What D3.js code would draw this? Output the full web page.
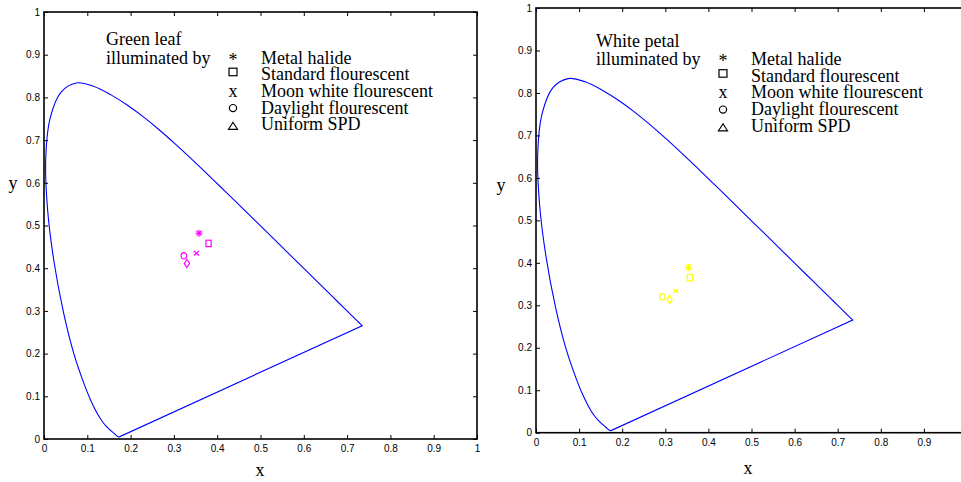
<!DOCTYPE html>
<html>
<head>
<meta charset="utf-8">
<script src="https://cdn.jsdelivr.net/npm/d3@7"></script>
<style>
  body { margin: 0; background: #fff; }
  svg { display: block; }
  .tick text { font-family: "Liberation Sans", Arial, sans-serif; font-size: 10px; fill: #000; }
  .lgd { font-family: "Liberation Serif", "Times New Roman", serif; font-size: 18px; fill: #000; }
</style>
</head>
<body>
<svg id="chart" width="961" height="482"></svg>
<script>
// CIE 1931 spectral locus, 380-700 nm step 5 nm
const locusX = [0.1741, 0.1740, 0.1738, 0.1736, 0.1733, 0.1730, 0.1726, 0.1721, 0.1714, 0.1703,
  0.1689, 0.1669, 0.1644, 0.1611, 0.1566, 0.1510, 0.1440, 0.1355, 0.1241, 0.1096,
  0.0913, 0.0687, 0.0454, 0.0235, 0.0082, 0.0039, 0.0139, 0.0389, 0.0743, 0.1142,
  0.1547, 0.1929, 0.2296, 0.2658, 0.3016, 0.3373, 0.3731, 0.4087, 0.4441, 0.4788,
  0.5125, 0.5448, 0.5752, 0.6029, 0.6270, 0.6482, 0.6658, 0.6801, 0.6915, 0.7006,
  0.7079, 0.7140, 0.7190, 0.7230, 0.7260, 0.7283, 0.7300, 0.7311, 0.7320, 0.7327,
  0.7334, 0.7340, 0.7344, 0.7346, 0.7347];
const locusY = [0.0050, 0.0050, 0.0049, 0.0049, 0.0048, 0.0048, 0.0048, 0.0048, 0.0051, 0.0058,
  0.0069, 0.0086, 0.0109, 0.0138, 0.0177, 0.0227, 0.0297, 0.0399, 0.0578, 0.0868,
  0.1327, 0.2007, 0.2950, 0.4127, 0.5384, 0.6548, 0.7502, 0.8120, 0.8338, 0.8262,
  0.8059, 0.7816, 0.7543, 0.7243, 0.6923, 0.6589, 0.6245, 0.5896, 0.5547, 0.5202,
  0.4866, 0.4544, 0.4242, 0.3965, 0.3725, 0.3514, 0.3340, 0.3197, 0.3083, 0.2993,
  0.2920, 0.2859, 0.2809, 0.2770, 0.2740, 0.2717, 0.2700, 0.2689, 0.2680, 0.2673,
  0.2666, 0.2660, 0.2656, 0.2654, 0.2653];

const illuminants = ['Metal halide', 'Standard flourescent', 'Moon white flourescent',
  'Daylight flourescent', 'Uniform SPD'];
const markers = ['star', 'square', 'x', 'circle', 'diamond'];

// chromaticity of the samples, one per illuminant
const leafX = [0.358, 0.380, 0.352, 0.323, 0.330];
const leafY = [0.482, 0.458, 0.435, 0.429, 0.411];
const petalX = [0.354, 0.357, 0.324, 0.293, 0.310];
const petalY = [0.389, 0.365, 0.334, 0.320, 0.314];

const tickVals = [0, 0.1, 0.2, 0.3, 0.4, 0.5, 0.6, 0.7, 0.8, 0.9, 1];

const W = 961;
const svg = d3.select('#chart');
svg.append('rect').attr('width', W).attr('height', 482).attr('fill', '#fff');

const fmt = d => String(+d.toFixed(1));

function marker(g, type, cx, cy, color) {
  const m = g.append('g').attr('transform', `translate(${cx},${cy})`)
    .attr('fill', 'none').attr('stroke', color).attr('stroke-width', 1.2);
  if (type === 'star') {
    const r = 3.5;
    [0, 45, 90, 135].forEach(a => {
      const dx = r * Math.cos(a * Math.PI / 180);
      const dy = r * Math.sin(a * Math.PI / 180);
      m.append('line').attr('x1', -dx).attr('y1', -dy).attr('x2', dx).attr('y2', dy);
    });
  } else if (type === 'square') {
    m.append('rect').attr('x', -2.6).attr('y', -3.2).attr('width', 5.2).attr('height', 6.4);
  } else if (type === 'x') {
    m.append('path').attr('d', 'M-2.5,-2.2L2.5,2.2M-2.5,2.2L2.5,-2.2');
  } else if (type === 'circle') {
    m.append('ellipse').attr('rx', 2.8).attr('ry', 3.2);
  } else if (type === 'diamond') {
    m.append('path').attr('d', 'M0,-4.2L2.6,0L0,4.2L-2.6,0Z');
  }
}

function drawPanel(p) {
  const x = d3.scaleLinear().domain([0, 1]).range([p.left, p.right]);
  const y = d3.scaleLinear().domain([0, 1]).range([p.bottom, p.top]);
  const g = svg.append('g');

  // spectral locus (smooth) + straight purple line back to start
  const line = d3.line().x(d => x(d[0])).y(d => y(d[1])).curve(d3.curveCatmullRom.alpha(0.5));
  const pts = locusX.map((v, i) => [v, locusY[i]]);
  g.append('path')
    .attr('d', line(pts) + 'Z')
    .attr('fill', 'none')
    .attr('stroke', '#0000ff')
    .attr('stroke-width', 1.1);

  // labels that would fall past the canvas edge are dropped
  const fmtX = d => (x(d) > W - 6 ? '' : fmt(d));

  // axes, ticks inward like matlab
  g.append('g').attr('transform', `translate(0,${p.bottom})`)
    .call(d3.axisBottom(x).tickValues(tickVals).tickFormat(fmtX).tickSizeInner(-4).tickSizeOuter(0).tickPadding(6));
  g.append('g').attr('transform', `translate(0,${p.top})`)
    .call(d3.axisTop(x).tickValues(tickVals).tickFormat('').tickSizeInner(-4).tickSizeOuter(0));
  g.append('g').attr('transform', `translate(${p.left},0)`)
    .call(d3.axisLeft(y).tickValues(tickVals).tickFormat(fmt).tickSizeInner(-4).tickSizeOuter(0).tickPadding(4));
  g.append('g').attr('transform', `translate(${p.right},0)`)
    .call(d3.axisRight(y).tickValues(tickVals).tickFormat('').tickSizeInner(-4).tickSizeOuter(0));
  g.selectAll('.domain').remove();
  g.selectAll('.tick line').attr('stroke', '#000').attr('stroke-width', 1);
  g.append('rect')
    .attr('x', p.left).attr('y', p.top)
    .attr('width', p.right - p.left).attr('height', p.bottom - p.top)
    .attr('fill', 'none').attr('stroke', '#000').attr('stroke-width', 1.6);

  // axis titles
  g.append('text').attr('class', 'lgd').attr('font-size', '17px')
    .attr('x', p.xLab[0]).attr('y', p.xLab[1]).attr('text-anchor', 'middle').text('x');
  g.append('text').attr('class', 'lgd').attr('font-size', '17px')
    .attr('x', p.yLab[0]).attr('y', p.yLab[1]).attr('text-anchor', 'middle').text('y');

  // sample points
  p.px.forEach((v, i) => marker(g, markers[i], x(v), y(p.py[i]), p.color));

  // legend
  const lg = g.append('g');
  lg.append('text').attr('class', 'lgd').attr('x', p.lgdX).attr('y', p.lgdY - p.step - 1.5).text(p.title);
  lg.append('text').attr('class', 'lgd').attr('x', p.lgdX).attr('y', p.lgdY).text('illuminated by');
  illuminants.forEach((name, i) => {
    const by = p.lgdY + i * p.step;
    lg.append('text').attr('class', 'lgd').attr('x', p.lgdX + 155).attr('y', by).text(name);
    const sx = p.lgdX + 127;
    const t = markers[i];
    if (t === 'star') {
      lg.append('text').attr('class', 'lgd').attr('x', sx).attr('y', by + 2).attr('text-anchor', 'middle').text('*');
    } else if (t === 'x') {
      lg.append('text').attr('class', 'lgd').attr('x', sx).attr('y', by).attr('text-anchor', 'middle').text('x');
    } else if (t === 'square') {
      lg.append('rect').attr('x', sx - 4).attr('y', by - 12).attr('width', 8).attr('height', 7.5)
        .attr('fill', 'none').attr('stroke', '#000').attr('stroke-width', 1.2);
    } else if (t === 'circle') {
      lg.append('circle').attr('cx', sx).attr('cy', by - 5.5).attr('r', 3.6)
        .attr('fill', 'none').attr('stroke', '#000').attr('stroke-width', 1.2);
    } else {
      lg.append('path').attr('d', `M${sx - 4.5},${by - 1}L${sx + 4.5},${by - 1}L${sx},${by - 8}Z`)
        .attr('fill', 'none').attr('stroke', '#000').attr('stroke-width', 1.2);
    }
  });
}

drawPanel({
  left: 44, right: 477, top: 12, bottom: 439,
  px: leafX, py: leafY, color: '#ff00ff',
  title: 'Green leaf', lgdX: 106, lgdY: 63.5, step: 16.7,
  xLab: [260, 476], yLab: [13, 189]
});
drawPanel({
  left: 536, right: 967, top: 8, bottom: 432.7,
  px: petalX, py: petalY, color: '#ffff00',
  title: 'White petal', lgdX: 596, lgdY: 65, step: 16.7,
  xLab: [748, 474], yLab: [501, 191]
});
</script>
</body>
</html>
